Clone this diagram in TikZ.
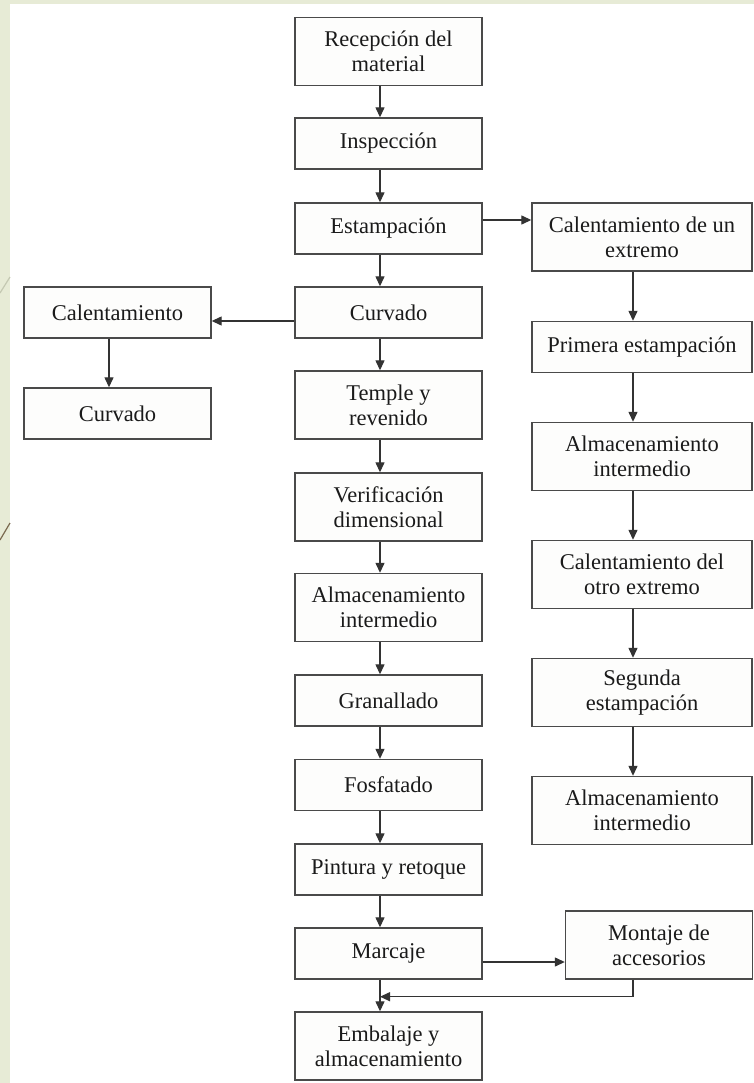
\documentclass[tikz,border=0pt]{standalone}
\usepackage{fontspec}
\setmainfont{Liberation Serif}
\usetikzlibrary{arrows.meta,calc}
\definecolor{boxline}{HTML}{4A4A4A}
\definecolor{arrline}{HTML}{333333}
\definecolor{txt}{HTML}{1A1A1A}
\definecolor{bg}{HTML}{E7EBD6}
\definecolor{boxfill}{HTML}{FDFDFC}
\definecolor{decogray}{HTML}{C4C8B2}
\definecolor{decobrown}{HTML}{7A6A50}
\begin{document}
\begin{tikzpicture}[x=1pt,y=-1pt,
  box/.style={draw=boxline, line width=1.4pt, fill=boxfill, minimum width=187pt,
    minimum height=51pt, inner sep=0pt, align=center,
    font=\fontsize{22.5}{25}\selectfont, text=txt},
  tall/.style={minimum height=68pt},
  wide/.style={minimum width=220pt},
  arr/.style={draw=arrline, line width=1.3pt, -{Triangle[length=10pt,width=9pt]}},
  deco/.style={line width=1.2pt}]
\useasboundingbox (0,0) rectangle (754,1083);
\fill[bg] (0,0) rectangle (754,1083);
\fill[white] (10,4) rectangle (754,1083);
\draw[deco, decogray] (10,277) -- (0,293);
\draw[deco, decobrown] (10,523) -- (0,540);

% centre column
\node[box,tall] (rec) at (388.5,51.5) {Recepción del\\material};
\node[box] (insp) at (388.5,143.5) {Inspección};
\node[box] (estamp) at (388.5,228.5) {Estampación};
\node[box] (curv) at (388.5,312.5) {Curvado};
\node[box,tall] (temple) at (388.5,405) {Temple y\\revenido};
\node[box,tall] (verif) at (388.5,507) {Verificación\\dimensional};
\node[box,tall] (alm) at (388.5,607.5) {Almacenamiento\\intermedio};
\node[box] (gran) at (388.5,700.5) {Granallado};
\node[box] (fosf) at (388.5,785) {Fosfatado};
\node[box] (pint) at (388.5,869.5) {Pintura y retoque};
\node[box] (marc) at (388.5,953.5) {Marcaje};
\node[box,tall] (emb) at (388.5,1046) {Embalaje y\\almacenamiento};

% right column
\node[box,tall,wide] (cal1) at (642,237) {Calentamiento de un\\extremo};
\node[box,wide] (prim) at (642,347) {Primera estampación};
\node[box,tall,wide] (alm1) at (642,456.5) {Almacenamiento\\intermedio};
\node[box,tall,wide] (cal2) at (642,574.5) {Calentamiento del\\otro extremo};
\node[box,tall,wide] (seg) at (642,692.5) {Segunda\\estampación};
\node[box,tall,wide] (alm2) at (642,810.5) {Almacenamiento\\intermedio};
\node[box,tall] (mont) at (659,945) {Montaje de\\accesorios};

% left column
\node[box] (lcal) at (117.5,312.5) {Calentamiento};
\node[box] (lcurv) at (117.5,413.5) {Curvado};

% arrows
\foreach \a/\b in {rec/insp,insp/estamp,estamp/curv,curv/temple,temple/verif,verif/alm,alm/gran,gran/fosf,fosf/pint,pint/marc,marc/emb}
  \draw[arr] ([xshift=-8.5pt]\a.south) -- ([xshift=-8.5pt]\b.north);
\foreach \a/\b in {cal1/prim,prim/alm1,alm1/cal2,cal2/seg,seg/alm2}
  \draw[arr] ([xshift=-9pt]\a.south) -- ([xshift=-9pt]\b.north);
\draw[arr] ([xshift=-8.5pt]lcal.south) -- ([xshift=-8.5pt]lcurv.north);

\draw[arr] ([yshift=8.5pt]estamp.east) -- ([yshift=8.5pt]estamp.east -| cal1.west);
\draw[arr] ([yshift=-8.5pt]curv.west) -- ([yshift=-8.5pt]curv.west -| lcal.east);
\draw[arr] ([yshift=-8.5pt]marc.east) -- ([yshift=-8.5pt]marc.east -| mont.west);
\draw[arr] ([xshift=-26pt]mont.south) |- ([xshift=-8.5pt,yshift=-17pt]marc.south);
\end{tikzpicture}
\end{document}
